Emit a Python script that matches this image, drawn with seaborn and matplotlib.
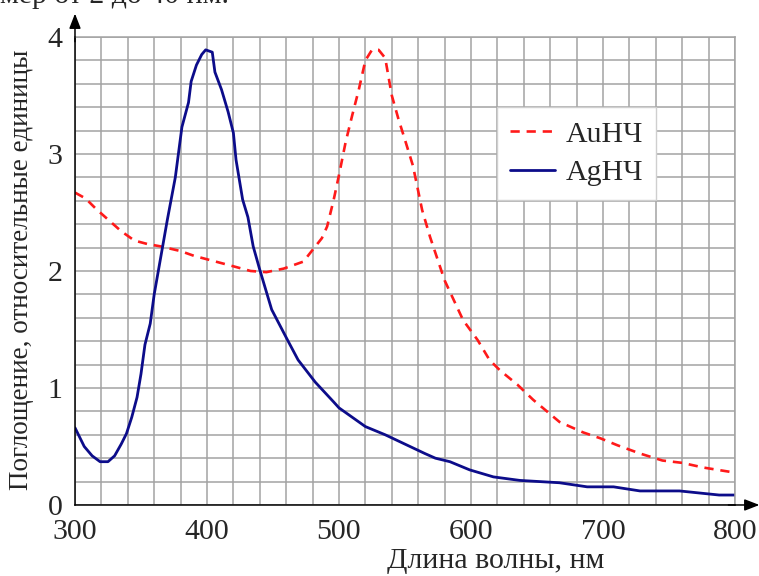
import seaborn as sns
import matplotlib
matplotlib.use('Agg')
import matplotlib.pyplot as plt
from matplotlib.ticker import MultipleLocator
import pandas as pd

# Ag nanoparticles (solid navy)
ag_nm = [300, 307, 313, 319, 325, 330, 335, 339, 343, 347, 350, 353, 357, 360, 365,
         370, 376, 381, 386, 388, 392, 396, 399, 404, 406, 411, 416, 420, 422, 427,
         431, 435, 440, 449, 461, 469, 482, 496, 500, 510, 520, 535, 550, 565, 573,
         584, 599, 617, 637, 667, 688, 708, 728, 758, 788, 800]
ag_abs = [0.66, 0.50, 0.42, 0.37, 0.37, 0.42, 0.52, 0.61, 0.75, 0.92, 1.12, 1.37, 1.55, 1.80, 2.12,
          2.44, 2.80, 3.23, 3.44, 3.62, 3.76, 3.85, 3.89, 3.87, 3.70, 3.55, 3.36, 3.18, 2.95, 2.61,
          2.46, 2.21, 2.01, 1.67, 1.41, 1.24, 1.05, 0.88, 0.83, 0.75, 0.67, 0.60, 0.52, 0.44, 0.40,
          0.37, 0.30, 0.24, 0.21, 0.19, 0.155, 0.155, 0.12, 0.12, 0.085, 0.085]

# Au nanoparticles (red dashed)
au_nm = [300, 308, 316, 325, 335, 345, 355, 365, 380, 390, 400, 410, 420, 433, 445,
         458, 473, 480, 487, 491, 496, 500, 505, 510, 515, 520, 525, 530, 535, 540,
         545, 550, 556, 563, 569, 580, 594, 605, 614, 622, 635, 647, 667, 685, 698,
         711, 728, 745, 760, 776, 798]
au_abs = [2.67, 2.62, 2.53, 2.44, 2.34, 2.26, 2.23, 2.21, 2.17, 2.13, 2.10, 2.07, 2.04, 2.00, 1.99,
          2.02, 2.08, 2.18, 2.28, 2.38, 2.61, 2.82, 3.10, 3.33, 3.55, 3.80, 3.89, 3.89, 3.82, 3.50,
          3.30, 3.12, 2.90, 2.52, 2.29, 1.92, 1.58, 1.41, 1.24, 1.15, 1.03, 0.90, 0.71, 0.62, 0.57,
          0.51, 0.44, 0.38, 0.36, 0.32, 0.28]

x_ticks = [300, 400, 500, 600, 700, 800]
y_ticks = [0, 1, 2, 3, 4]

df_au = pd.DataFrame({'nm': au_nm, 'abs': au_abs})
df_ag = pd.DataFrame({'nm': ag_nm, 'abs': ag_abs})

sns.set_style('white')
plt.rcParams['font.family'] = ['Liberation Serif', 'DejaVu Serif']
fs = 21.5

fig = plt.figure(figsize=(7.59, 5.76), dpi=100)
ax = fig.add_axes([0.0988, 0.1233, 0.8696, 0.8125])

sns.lineplot(data=df_au, x='nm', y='abs', ax=ax, color='#ff1a1a', lw=1.9,
             dashes=False, sort=False, estimator=None, label='AuНЧ')
ax.lines[-1].set_dashes((3.5, 2.6))
sns.lineplot(data=df_ag, x='nm', y='abs', ax=ax, color='#0c0c8a', lw=2.0,
             sort=False, estimator=None, label='AgНЧ')

ax.set_xlim(300, 800)
ax.set_ylim(0, 4)
ax.set_xticks(x_ticks)
ax.set_yticks(y_ticks)
ax.set_xticklabels([str(v) for v in x_ticks], fontfamily='Liberation Serif')
ax.set_yticklabels([str(v) for v in y_ticks], fontfamily='Liberation Serif')
ax.xaxis.set_minor_locator(MultipleLocator(20))
ax.yaxis.set_minor_locator(MultipleLocator(0.2))
ax.grid(which='both', color='#a3a3a3', lw=1.1)
ax.set_axisbelow(True)

for s in ['top', 'right']:
    ax.spines[s].set_color('#a3a3a3')
    ax.spines[s].set_linewidth(1.1)
for s in ['left', 'bottom']:
    ax.spines[s].set_color('black')
    ax.spines[s].set_linewidth(1.1)

ax.tick_params(axis='x', which='major', direction='in', length=6, width=1.1,
               color='black', labelsize=fs, pad=10)
ax.tick_params(axis='y', which='major', direction='out', length=7, width=1.1,
               color='black', labelsize=fs, pad=2)
ax.tick_params(which='minor', length=0)

# arrow heads on axes
ax.annotate('', xy=(0, 1.05), xytext=(0, 0.99), xycoords='axes fraction',
            arrowprops=dict(arrowstyle='-|>,head_length=0.9,head_width=0.35',
                            color='black', lw=1.1, shrinkA=0, shrinkB=0))
ax.annotate('', xy=(1.037, 0), xytext=(0.99, 0), xycoords='axes fraction',
            arrowprops=dict(arrowstyle='-|>,head_length=0.9,head_width=0.35',
                            color='black', lw=1.1, shrinkA=0, shrinkB=0))

ax.set_xlabel('Длина волны, нм', fontsize=fs)
ax.xaxis.set_label_coords(0.638, -0.092)
ax.set_ylabel('Поглощение, относительные единицы', fontsize=19.5, va='center')
ax.yaxis.set_label_coords(-0.081, 0.502)

leg = ax.legend(loc='upper left', bbox_to_anchor=(0.639, 0.85), borderaxespad=0,
                fontsize=fs, frameon=True, fancybox=False, framealpha=1,
                edgecolor='#cfcfcf', handlelength=1.5, handletextpad=0.35,
                labelspacing=0.4, borderpad=0.45)
leg.get_frame().set_linewidth(1.0)

fig.text(0.0, 0.994, 'мер от 2 до 40 нм.', fontsize=fs, va='baseline', ha='left')

fig.savefig('out.png', dpi=100)
